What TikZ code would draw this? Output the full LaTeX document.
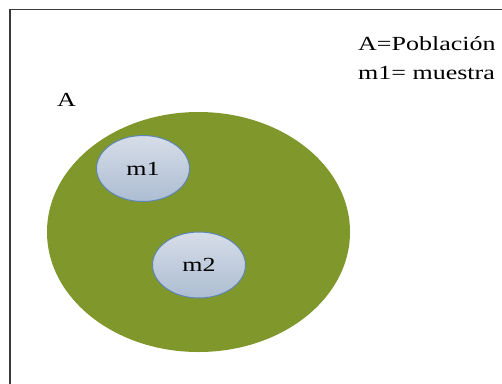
\documentclass[tikz,border=0pt]{standalone}
\usepackage{fontspec}
\setmainfont{Liberation Serif}
\newfontfamily\figfont[FakeStretch=1.3]{Liberation Serif}
\usetikzlibrary{shapes.geometric}
\definecolor{popgreen}{HTML}{7F972B}
\definecolor{samptop}{HTML}{D6DDE8}
\definecolor{sampbot}{HTML}{ADBDD2}
\definecolor{sampedge}{HTML}{5E86B4}
\definecolor{framegray}{HTML}{3A3A3A}
\tikzset{
  population/.style={ellipse, fill=popgreen, draw=none, minimum width=303pt, minimum height=240pt, inner sep=0pt},
  sample/.style={ellipse, top color=samptop, bottom color=sampbot, draw=sampedge, line width=1pt, minimum width=93pt, minimum height=66pt, inner sep=0pt, font=\figfont\fontsize{20}{24}\selectfont},
  lbl/.style={font=\figfont\fontsize{20}{24}\selectfont, inner sep=0pt, anchor=base west}
}
\begin{document}
\begin{tikzpicture}[x=1pt,y=-1pt]
\useasboundingbox (0,0) rectangle (502,383);
\clip (0,0) rectangle (502,383);
\fill[white] (0,0) rectangle (502,383);
% outer frame, running past the right and lower edges
\draw[framegray, line width=1.6pt] (10,520) -- (10,9.5) -- (640,9.5);
% population and its samples
\node[population] (pop) at (198.5,232) {};
\node[sample] (m1) at (143,168.5) {m1};
\node[sample] (m2) at (199,265) {m2};
\node[lbl] (labA) at (57,106) {A};
% legend
\node[lbl] (leg1) at (358,50) {A=Población};
\node[lbl] (leg2) at (358,79) {m1= muestra};
\end{tikzpicture}
\end{document}
